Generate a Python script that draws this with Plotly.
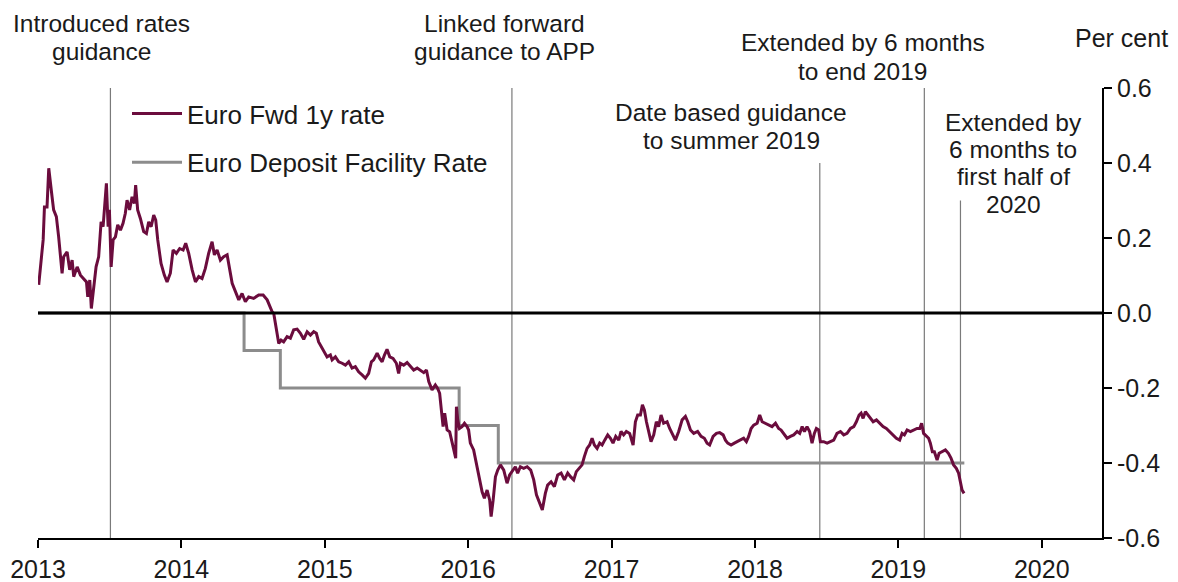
import plotly.graph_objects as go

# ---------------- data ----------------
fwd_years = [
    2013.005, 2013.017, 2013.036, 2013.045, 2013.063, 2013.075, 2013.086, 2013.098, 2013.109, 2013.128,
    2013.144, 2013.168, 2013.179, 2013.203, 2013.221, 2013.238, 2013.249, 2013.273, 2013.296, 2013.319,
    2013.338, 2013.347, 2013.361, 2013.372, 2013.388, 2013.405, 2013.423, 2013.440, 2013.454, 2013.463,
    2013.477, 2013.489, 2013.498, 2013.510, 2013.524, 2013.540, 2013.556, 2013.575, 2013.593, 2013.609,
    2013.621, 2013.639, 2013.656, 2013.672, 2013.681, 2013.695, 2013.714, 2013.737, 2013.756, 2013.772,
    2013.789, 2013.807, 2013.821, 2013.835, 2013.858, 2013.881, 2013.900, 2013.923, 2013.942, 2013.965,
    2013.988, 2014.012, 2014.030, 2014.051, 2014.075, 2014.098, 2014.121, 2014.144, 2014.167, 2014.190,
    2014.214, 2014.230, 2014.249, 2014.272, 2014.295, 2014.319, 2014.335, 2014.354, 2014.377, 2014.400,
    2014.423, 2014.446, 2014.469, 2014.504, 2014.539, 2014.570, 2014.598, 2014.633, 2014.644, 2014.656,
    2014.679, 2014.695, 2014.713, 2014.737, 2014.760, 2014.783, 2014.807, 2014.830, 2014.853, 2014.877,
    2014.900, 2014.923, 2014.941, 2014.957, 2014.981, 2015.004, 2015.016, 2015.039, 2015.051, 2015.074,
    2015.097, 2015.121, 2015.144, 2015.167, 2015.190, 2015.213, 2015.236, 2015.260, 2015.283, 2015.306,
    2015.325, 2015.341, 2015.365, 2015.383, 2015.400, 2015.416, 2015.434, 2015.453, 2015.476, 2015.499,
    2015.515, 2015.527, 2015.550, 2015.574, 2015.597, 2015.620, 2015.644, 2015.667, 2015.690, 2015.709,
    2015.725, 2015.748, 2015.771, 2015.787, 2015.801, 2015.813, 2015.825, 2015.836, 2015.853, 2015.871,
    2015.888, 2015.904, 2015.913, 2015.918, 2015.927, 2015.939, 2015.957, 2015.974, 2015.992, 2016.003,
    2016.015, 2016.038, 2016.062, 2016.080, 2016.097, 2016.113, 2016.132, 2016.150, 2016.160, 2016.174,
    2016.190, 2016.206, 2016.225, 2016.248, 2016.271, 2016.289, 2016.306, 2016.329, 2016.345, 2016.364,
    2016.387, 2016.411, 2016.436, 2016.457, 2016.476, 2016.499, 2016.517, 2016.538, 2016.554, 2016.578,
    2016.601, 2016.624, 2016.648, 2016.671, 2016.694, 2016.715, 2016.736, 2016.754, 2016.771, 2016.794,
    2016.810, 2016.829, 2016.847, 2016.864, 2016.880, 2016.899, 2016.917, 2016.934, 2016.952, 2016.973,
    2016.992, 2017.010, 2017.029, 2017.050, 2017.066, 2017.084, 2017.103, 2017.126, 2017.150, 2017.166,
    2017.182, 2017.201, 2017.215, 2017.229, 2017.243, 2017.257, 2017.275, 2017.294, 2017.312, 2017.328,
    2017.345, 2017.363, 2017.387, 2017.405, 2017.422, 2017.445, 2017.468, 2017.492, 2017.515, 2017.531,
    2017.550, 2017.573, 2017.600, 2017.624, 2017.647, 2017.666, 2017.684, 2017.708, 2017.731, 2017.754,
    2017.778, 2017.794, 2017.810, 2017.833, 2017.856, 2017.879, 2017.903, 2017.921, 2017.940, 2017.956,
    2017.973, 2017.991, 2018.015, 2018.033, 2018.050, 2018.073, 2018.096, 2018.119, 2018.143, 2018.165,
    2018.182, 2018.200, 2018.224, 2018.247, 2018.270, 2018.294, 2018.312, 2018.329, 2018.345, 2018.363,
    2018.381, 2018.398, 2018.414, 2018.428, 2018.444, 2018.456, 2018.479, 2018.503, 2018.526, 2018.549,
    2018.572, 2018.596, 2018.619, 2018.642, 2018.666, 2018.689, 2018.707, 2018.726, 2018.740, 2018.754,
    2018.770, 2018.786, 2018.805, 2018.824, 2018.847, 2018.870, 2018.893, 2018.916, 2018.939, 2018.963,
    2018.986, 2019.009, 2019.026, 2019.042, 2019.061, 2019.084, 2019.107, 2019.130, 2019.149, 2019.162,
    2019.176, 2019.195, 2019.211, 2019.223, 2019.237, 2019.251, 2019.270, 2019.284, 2019.305, 2019.328,
    2019.349, 2019.367, 2019.385, 2019.404, 2019.420, 2019.434, 2019.444, 2019.458,
]
fwd_values = [
    0.075, 0.120, 0.195, 0.283, 0.283, 0.386, 0.355, 0.310, 0.275, 0.257,
    0.203, 0.106, 0.150, 0.163, 0.115, 0.141, 0.097, 0.123, 0.101, 0.092,
    0.083, 0.043, 0.088, 0.012, 0.061, 0.123, 0.150, 0.243, 0.230, 0.275,
    0.346, 0.230, 0.275, 0.123, 0.195, 0.203, 0.235, 0.221, 0.239, 0.266,
    0.301, 0.275, 0.310, 0.292, 0.341, 0.275, 0.252, 0.217, 0.212, 0.243,
    0.230, 0.261, 0.248, 0.195, 0.132, 0.101, 0.083, 0.106, 0.168, 0.159,
    0.172, 0.168, 0.186, 0.159, 0.115, 0.083, 0.097, 0.092, 0.119, 0.159,
    0.190, 0.155, 0.168, 0.141, 0.150, 0.155, 0.123, 0.079, 0.057, 0.035,
    0.052, 0.030, 0.043, 0.039, 0.048, 0.048, 0.035, 0.003, -0.001, -0.027,
    -0.081, -0.072, -0.077, -0.063, -0.067, -0.045, -0.043, -0.054, -0.070, -0.050,
    -0.059, -0.050, -0.054, -0.077, -0.094, -0.107, -0.117, -0.112, -0.125, -0.117,
    -0.130, -0.134, -0.139, -0.130, -0.147, -0.143, -0.157, -0.165, -0.174, -0.161,
    -0.130, -0.125, -0.107, -0.121, -0.130, -0.112, -0.097, -0.117, -0.121, -0.134,
    -0.161, -0.134, -0.139, -0.132, -0.143, -0.152, -0.147, -0.152, -0.159, -0.152,
    -0.183, -0.205, -0.192, -0.201, -0.214, -0.259, -0.303, -0.267, -0.312, -0.317,
    -0.347, -0.374, -0.387, -0.250, -0.285, -0.308, -0.303, -0.294, -0.303, -0.312,
    -0.347, -0.365, -0.410, -0.437, -0.477, -0.494, -0.472, -0.499, -0.543, -0.499,
    -0.437, -0.419, -0.405, -0.419, -0.454, -0.432, -0.423, -0.410, -0.427, -0.410,
    -0.414, -0.410, -0.419, -0.445, -0.485, -0.507, -0.525, -0.481, -0.459, -0.450,
    -0.463, -0.432, -0.427, -0.445, -0.427, -0.437, -0.445, -0.423, -0.414, -0.405,
    -0.383, -0.361, -0.352, -0.334, -0.352, -0.361, -0.347, -0.352, -0.339, -0.325,
    -0.334, -0.347, -0.329, -0.339, -0.316, -0.325, -0.316, -0.321, -0.352, -0.290,
    -0.272, -0.272, -0.245, -0.259, -0.290, -0.312, -0.343, -0.325, -0.290, -0.303,
    -0.272, -0.294, -0.290, -0.308, -0.321, -0.339, -0.316, -0.285, -0.276, -0.290,
    -0.312, -0.321, -0.316, -0.329, -0.334, -0.347, -0.352, -0.329, -0.321, -0.319,
    -0.325, -0.339, -0.347, -0.352, -0.347, -0.343, -0.339, -0.334, -0.343, -0.329,
    -0.308, -0.299, -0.294, -0.272, -0.290, -0.294, -0.299, -0.303, -0.294, -0.308,
    -0.312, -0.321, -0.334, -0.329, -0.325, -0.316, -0.321, -0.303, -0.316, -0.303,
    -0.316, -0.347, -0.321, -0.308, -0.312, -0.343, -0.343, -0.347, -0.343, -0.339,
    -0.321, -0.316, -0.325, -0.321, -0.308, -0.303, -0.290, -0.272, -0.267, -0.281,
    -0.263, -0.272, -0.281, -0.290, -0.285, -0.294, -0.303, -0.308, -0.316, -0.325,
    -0.334, -0.339, -0.321, -0.325, -0.312, -0.316, -0.312, -0.308, -0.308, -0.294,
    -0.321, -0.329, -0.334, -0.347, -0.370, -0.370, -0.392, -0.374, -0.370, -0.365,
    -0.374, -0.387, -0.405, -0.414, -0.427, -0.454, -0.472, -0.481,
]

# ECB deposit facility rate (step changes)
dfr_years = [2013.0, 2014.437, 2014.69, 2015.937, 2016.21, 2019.46]
dfr_values = [0.0, -0.10, -0.20, -0.30, -0.40, -0.40]

# forward guidance events: date, top of marker line, label lines
event_years = [2013.505, 2016.305, 2018.452, 2019.181, 2019.433]
event_tops = [0.6, 0.6, 0.4, 0.6, 0.3]
event_labels = [
    ["Introduced rates", "guidance"],
    ["Linked forward", "guidance to APP"],
    ["Date based guidance", "to summer 2019"],
    ["Extended by 6 months", "to end 2019"],
    ["Extended by", "6 months to", "first half of", "2020"],
]

x_tickvals = [2013, 2014, 2015, 2016, 2017, 2018, 2019, 2020]
x_ticktext = ["2013", "2014", "2015", "2016", "2017", "2018", "2019", "2020"]
y_tickvals = [0.6, 0.4, 0.2, 0.0, -0.2, -0.4, -0.6]
y_ticktext = ["0.6", "0.4", "0.2", "0.0", "-0.2", "-0.4", "-0.6"]

# ---------------- layout constants ----------------
W, H = 1178, 582
ML, MR, MT, MB = 38, 76, 88, 44
FONT = "Liberation Sans, Arial, sans-serif"
TXT = "#1a1a1a"
MAROON = "#6b0c3d"
GREY = "#8c8c8c"

def paper_y(py):
    return 1 - (py - MT) / (H - MT - MB)

def paper_x(px):
    return (px - ML) / (W - ML - MR)

# label placement: (x center in years, list of line-centre pixel rows)
label_pos = [
    (2013.443, [23, 51]),
    (2016.252, [23, 51]),
    (2017.836, [112, 140]),
    (2018.750, [43, 71]),
    (2019.802, [122, 149.3, 176.6, 204]),
]

fig = go.Figure()

fig.add_trace(go.Scatter(
    x=dfr_years, y=dfr_values, mode="lines", line_shape="hv",
    name="Euro Deposit Facility Rate", line=dict(color=GREY, width=3),
    legendgroup="b", legendrank=2,
))
fig.add_trace(go.Scatter(
    x=fwd_years, y=fwd_values, mode="lines",
    name="Euro Fwd 1y rate", line=dict(color=MAROON, width=3),
    legendgroup="a", legendrank=1,
))

shapes = []
for yr, top in zip(event_years, event_tops):
    shapes.append(dict(type="line", xref="x", yref="y", x0=yr, x1=yr, y0=-0.6, y1=top,
                       line=dict(color="#7a7a7a", width=1.2), layer="below"))
shapes.append(dict(type="line", xref="paper", yref="y", x0=0, x1=1, y0=0, y1=0,
                   line=dict(color="black", width=3), layer="above"))

annotations = []
for lines, (xc, rows) in zip(event_labels, label_pos):
    for txt, py in zip(lines, rows):
        annotations.append(dict(x=xc, xref="x", y=paper_y(py), yref="paper",
                                text=txt, showarrow=False, xanchor="center", yanchor="middle",
                                borderpad=0,
                                font=dict(family=FONT, size=24.5, color=TXT)))
annotations.append(dict(x=paper_x(1121), xref="paper", y=paper_y(38), yref="paper", text="Per cent",
                        showarrow=False, xanchor="center", yanchor="middle", borderpad=0,
                        font=dict(family=FONT, size=25, color=TXT)))

fig.update_layout(
    width=W, height=H,
    margin=dict(l=ML, r=MR, t=MT, b=MB, pad=0, autoexpand=False),
    paper_bgcolor="white", plot_bgcolor="white",
    font=dict(family=FONT, size=25, color=TXT),
    showlegend=True,
    legend=dict(x=paper_x(127), y=paper_y(90), xanchor="left", yanchor="top",
                bgcolor="rgba(0,0,0,0)", font=dict(family=FONT, size=26, color=TXT),
                traceorder="grouped", tracegroupgap=12, itemwidth=50),
    shapes=shapes,
    annotations=annotations,
    xaxis=dict(range=[2013, 2020.42], tickvals=x_tickvals, ticktext=x_ticktext,
               automargin=False,
               showgrid=False, zeroline=False, showline=True, linecolor="black", linewidth=2,
               ticks="outside", ticklen=8, tickwidth=2, tickcolor="black",
               tickfont=dict(family=FONT, size=25, color=TXT)),
    yaxis=dict(range=[-0.6, 0.6], side="right", tickvals=y_tickvals, ticktext=y_ticktext,
               automargin=False,
               showgrid=False, zeroline=False, showline=True, linecolor="black", linewidth=2,
               ticks="outside", ticklen=8, tickwidth=2, tickcolor="black",
               tickfont=dict(family=FONT, size=25, color=TXT)),
)

fig.write_html("out.html", config={"displayModeBar": False},
               post_script="document.body.style.margin='0';document.body.style.overflow='hidden';")
